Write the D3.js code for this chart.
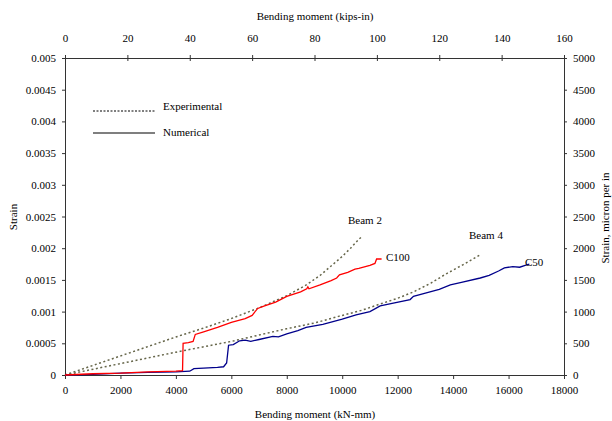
<!DOCTYPE html>
<html>
<head>
<meta charset="utf-8">
<script src="https://cdn.jsdelivr.net/npm/d3@7"></script>
<style>
  body { margin: 0; background: #fff; }
  svg { display: block; font-family: "Liberation Serif", "Times New Roman", serif; }
  .axis text { font-size: 11px; fill: #000; font-family: "Liberation Serif", "Times New Roman", serif; }
  .axis path, .axis line { stroke: #333; }
</style>
</head>
<body>
<svg id="chart" width="612" height="421"></svg>
<script>
// bending moment (kN-mm), strain
const beam2Exp = [
  [0, 0], [1000, 0.00015], [2000, 0.0003], [3000, 0.00045], [4000, 0.0006],
  [5000, 0.00074], [6000, 0.00089], [7000, 0.00106], [8000, 0.00125],
  [8700, 0.00142], [9200, 0.00157], [9600, 0.00172], [10000, 0.00187],
  [10300, 0.002], [10600, 0.00214], [10700, 0.00218]
];
const beam4Exp = [
  [0, 0], [2000, 0.00018], [4000, 0.00036], [6000, 0.00053], [8000, 0.00073],
  [9000, 0.00082], [10000, 0.00094], [10700, 0.00102], [11370, 0.00112],
  [12000, 0.00121], [12570, 0.00131], [13200, 0.00145], [13770, 0.0016],
  [14400, 0.00175], [14950, 0.00189]
];
const c100 = [
  [0, 0], [1000, 0.00002], [2000, 0.00003], [3000, 0.00005], [4000, 0.00006],
  [4240, 0.00007], [4260, 0.0005], [4450, 0.00051], [4620, 0.00053],
  [4700, 0.00064], [5000, 0.00068], [5500, 0.00075], [6000, 0.00083],
  [6500, 0.00089], [6750, 0.00094], [6950, 0.00105], [7200, 0.00109],
  [7600, 0.00115], [8000, 0.00124], [8500, 0.00131], [8720, 0.00136],
  [8760, 0.00139], [8800, 0.00136], [9200, 0.00142], [9600, 0.00149],
  [9800, 0.00153], [9900, 0.00158], [10200, 0.00162], [10460, 0.00167],
  [10600, 0.00168], [11000, 0.00173], [11180, 0.00176], [11240, 0.00183],
  [11420, 0.00183]
];
const c50 = [
  [0, 0], [1000, 0.00001], [2000, 0.00003], [3000, 0.00004], [4000, 0.00005],
  [4500, 0.00006], [4650, 0.0001], [5000, 0.00011], [5500, 0.00012],
  [5720, 0.00013], [5830, 0.00019], [5900, 0.00047], [6070, 0.00048],
  [6300, 0.00054], [6500, 0.00055], [6700, 0.00053], [7000, 0.00056],
  [7500, 0.00061], [7700, 0.0006], [8000, 0.00065], [8400, 0.0007],
  [8700, 0.00075], [9300, 0.0008], [10000, 0.00088], [10500, 0.00095],
  [11000, 0.001], [11370, 0.00109], [11800, 0.00113], [12450, 0.00119],
  [12570, 0.00124], [13000, 0.00129], [13500, 0.00135], [13900, 0.00142],
  [14300, 0.00146], [14980, 0.00153], [15300, 0.00157], [15640, 0.00164],
  [15850, 0.00169], [16150, 0.00171], [16400, 0.0017], [16600, 0.00173],
  [16750, 0.00175]
];

const kNTicks = d3.range(0, 18001, 2000);
const kipTicks = d3.range(0, 161, 20);
const strainTicks = d3.range(0, 0.00501, 0.0005);
const micronTicks = d3.range(0, 5001, 500);

const svg = d3.select("#chart");
const plotLeft = 65, plotRight = 564, plotTop = 58, plotBottom = 375;

const x = d3.scaleLinear().domain([0, 18000]).range([plotLeft, plotRight]);
const xTop = d3.scaleLinear().domain([0, 160]).range([plotLeft, plotRight]);
const y = d3.scaleLinear().domain([0, 0.005]).range([plotBottom, plotTop]);
const yRight = d3.scaleLinear().domain([0, 5000]).range([plotBottom, plotTop]);

const fmtStrain = (d) => d === 0 ? "0" : String(+d.toFixed(4));

svg.append("g").attr("class", "axis")
  .attr("transform", `translate(0,${plotBottom})`)
  .call(d3.axisBottom(x).tickValues(kNTicks).tickSize(4).tickPadding(7).tickFormat(d3.format("d")));

const topAxis = svg.append("g").attr("class", "axis")
  .attr("transform", `translate(0,${plotTop})`)
  .call(d3.axisTop(xTop).tickValues(kipTicks).tickSizeOuter(0).tickSize(3).tickPadding(13).tickFormat(d3.format("d")));
topAxis.selectAll(".tick line").attr("y1", 3);

svg.append("g").attr("class", "axis")
  .attr("transform", `translate(${plotLeft},0)`)
  .call(d3.axisLeft(y).tickValues(strainTicks).tickSize(3).tickPadding(6).tickFormat(fmtStrain));

svg.append("g").attr("class", "axis")
  .attr("transform", `translate(${plotRight},0)`)
  .call(d3.axisRight(yRight).tickValues(micronTicks).tickSize(3).tickPadding(6).tickFormat(d3.format("d")));

svg.selectAll(".axis .domain").attr("stroke", "#333");

// axis titles
svg.append("text").attr("x", 315).attr("y", 20).attr("text-anchor", "middle")
  .attr("font-size", 11).text("Bending moment (kips-in)");
svg.append("text").attr("x", 315).attr("y", 418).attr("text-anchor", "middle")
  .attr("font-size", 11).text("Bending moment (kN-mm)");
svg.append("text").attr("transform", "translate(17,217) rotate(-90)")
  .attr("text-anchor", "middle").attr("font-size", 11).text("Strain");
svg.append("text").attr("transform", "translate(609,218) rotate(-90)")
  .attr("text-anchor", "middle").attr("font-size", 11).text("Strain, micron per in");

const line = d3.line().x((d) => x(d[0])).y((d) => y(d[1]));

svg.append("path").datum(beam2Exp).attr("d", line)
  .attr("fill", "none").attr("stroke", "#66664a").attr("stroke-width", 1.5)
  .attr("stroke-dasharray", "2,2.5");
svg.append("path").datum(beam4Exp).attr("d", line)
  .attr("fill", "none").attr("stroke", "#66664a").attr("stroke-width", 1.5)
  .attr("stroke-dasharray", "2,2.5");
svg.append("path").datum(c50).attr("d", line)
  .attr("fill", "none").attr("stroke", "#00008b").attr("stroke-width", 1.3);
svg.append("path").datum(c100).attr("d", line)
  .attr("fill", "none").attr("stroke", "#ff0000").attr("stroke-width", 1.3);

// curve labels
const labels = [
  { text: "Beam 2", x: 348, y: 224 },
  { text: "C100", x: 386, y: 261 },
  { text: "Beam 4", x: 469, y: 239 },
  { text: "C50", x: 525, y: 266 }
];
svg.selectAll(".curve-label").data(labels).join("text")
  .attr("class", "curve-label")
  .attr("x", (d) => d.x).attr("y", (d) => d.y)
  .attr("font-size", 11).text((d) => d.text);

// legend
svg.append("line").attr("x1", 93).attr("x2", 155).attr("y1", 111).attr("y2", 111)
  .attr("stroke", "#000").attr("stroke-width", 1).attr("stroke-dasharray", "2,1.5");
svg.append("text").attr("x", 163).attr("y", 110).attr("font-size", 11).text("Experimental");
svg.append("line").attr("x1", 93).attr("x2", 155).attr("y1", 133).attr("y2", 133)
  .attr("stroke", "#555").attr("stroke-width", 1.3);
svg.append("text").attr("x", 163).attr("y", 136).attr("font-size", 11).text("Numerical");
</script>
</body>
</html>
